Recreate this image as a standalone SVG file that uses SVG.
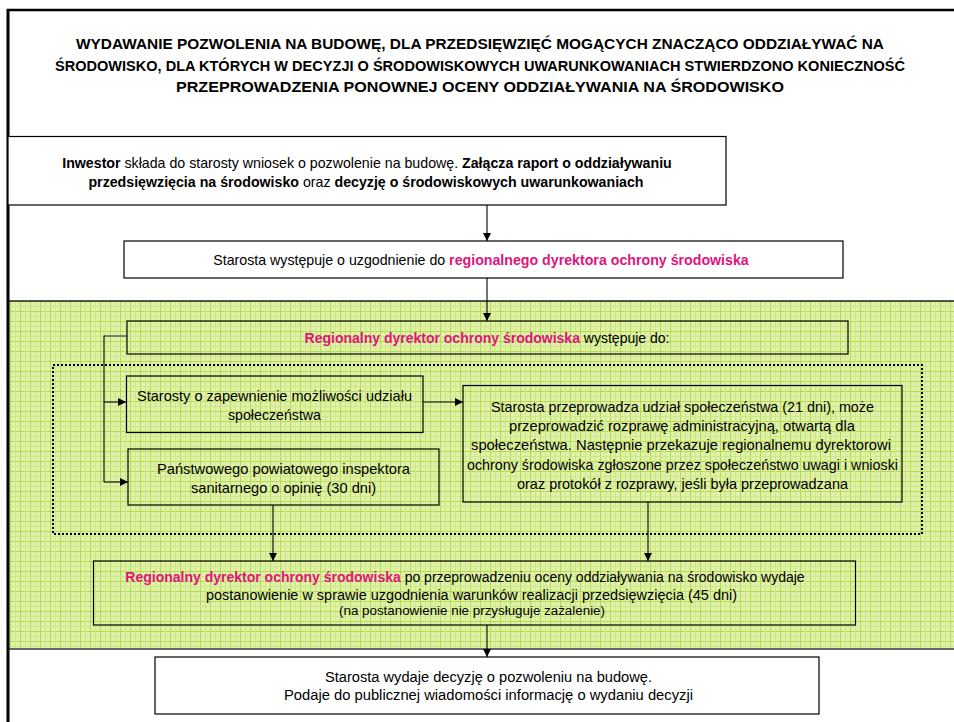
<svg xmlns="http://www.w3.org/2000/svg" width="954" height="722" viewBox="0 0 954 722">
<defs>
<pattern id="grid" x="0" y="1" width="10" height="10" patternUnits="userSpaceOnUse">
<rect width="10" height="10" fill="#e0f1aa"/>
<rect x="0" y="0" width="10" height="1" fill="#b5d94f"/>
<rect x="0" y="0" width="1" height="10" fill="#b5d94f"/>
<rect x="0" y="5" width="10" height="1" fill="#cde78a"/>
<rect x="5" y="0" width="1" height="10" fill="#cde78a"/>
</pattern>
<marker id="arr" markerWidth="8" markerHeight="8" refX="8" refY="4" orient="auto" markerUnits="userSpaceOnUse">
<path d="M0,0 L8,4 L0,8 Z" fill="#000"/>
</marker>
</defs>
<style>
text{font-family:"Liberation Sans",Arial,sans-serif;fill:#000;dominant-baseline:central;}
.t{font-size:14.5px;font-weight:bold;}
.n{font-size:14px;}
.mx{font-size:14.2px;}
.m{font-size:14.5px;}
.s{font-size:12px;}
.b{font-weight:bold;}
.p{fill:#e0147c;font-weight:bold;}
.box{fill:none;stroke:#000;stroke-width:1.2;}
.wbox{fill:#fff;stroke:#000;stroke-width:1.2;}
.c{fill:none;stroke:#000;stroke-width:1.1;}
</style>
<rect x="0" y="0" width="954" height="722" fill="#fff"/>
<rect x="9" y="301" width="945" height="348" fill="url(#grid)"/>
<line x1="9" y1="301" x2="954" y2="301" stroke="#222" stroke-width="1.5"/>
<line x1="9" y1="649" x2="954" y2="649" stroke="#666" stroke-width="2"/>
<line x1="7" y1="10" x2="954" y2="10" stroke="#000" stroke-width="2.5"/>
<line x1="8" y1="9" x2="8" y2="722" stroke="#000" stroke-width="3"/>

<g id="title">
<text class="t" x="76" y="44" textLength="808" lengthAdjust="spacingAndGlyphs">WYDAWANIE POZWOLENIA NA BUDOWĘ, DLA PRZEDSIĘWZIĘĆ MOGĄCYCH ZNACZĄCO ODDZIAŁYWAĆ NA</text>
<text class="t" x="55" y="66" textLength="850" lengthAdjust="spacingAndGlyphs">ŚRODOWISKO, DLA KTÓRYCH W DECYZJI O ŚRODOWISKOWYCH UWARUNKOWANIACH STWIERDZONO KONIECZNOŚĆ</text>
<text class="t" x="176" y="87" textLength="608" lengthAdjust="spacingAndGlyphs">PRZEPROWADZENIA PONOWNEJ OCENY ODDZIAŁYWANIA NA ŚRODOWISKO</text>
</g>

<g id="connectors">
<line class="c" x1="487" y1="205" x2="487" y2="241" marker-end="url(#arr)"/>
<line class="c" x1="487" y1="278" x2="487" y2="321" marker-end="url(#arr)"/>
<line x1="127" y1="336" x2="104" y2="336" stroke="#555" stroke-width="1.4"/>
<line class="c" x1="104" y1="335.5" x2="104" y2="482"/>
<line class="c" x1="104" y1="402" x2="126" y2="402" marker-end="url(#arr)"/>
<line class="c" x1="104" y1="482" x2="128" y2="482" marker-end="url(#arr)"/>
<line class="c" x1="423" y1="402" x2="463" y2="402" marker-end="url(#arr)"/>
<line class="c" x1="273" y1="505" x2="273" y2="561" marker-end="url(#arr)"/>
<line class="c" x1="648" y1="502" x2="648" y2="561" marker-end="url(#arr)"/>
<line class="c" x1="487" y1="625" x2="487" y2="657" marker-end="url(#arr)"/>
</g>

<g id="group-dotted">
<rect x="53" y="365" width="869" height="169" fill="none" stroke="#000" stroke-width="2" stroke-dasharray="2,2"/>
</g>

<g id="n1">
<rect class="wbox" x="8" y="136.5" width="718" height="68.5"/>
<text class="mx" x="367" y="163" text-anchor="middle"><tspan class="b">Inwestor</tspan> składa do starosty wniosek o pozwolenie na budowę. <tspan class="b">Załącza raport o oddziaływaniu</tspan></text>
<text class="mx" x="366" y="182" text-anchor="middle"><tspan class="b">przedsięwzięcia na środowisko</tspan> oraz <tspan class="b">decyzję o środowiskowych uwarunkowaniach</tspan></text>
</g>

<g id="n2">
<rect class="wbox" x="124" y="241" width="719" height="37"/>
<text class="mx" x="481" y="260" text-anchor="middle">Starosta występuje o uzgodnienie do <tspan class="p">regionalnego dyrektora ochrony środowiska</tspan></text>
</g>

<g id="n3">
<rect class="box" x="127" y="321" width="721" height="33"/>
<text class="n" x="487" y="338" text-anchor="middle"><tspan class="p">Regionalny dyrektor ochrony środowiska</tspan> występuje do:</text>
</g>

<g id="n4">
<rect class="box" x="126.5" y="376" width="296.5" height="56.5"/>
<text class="m" x="137" y="396" textLength="275" lengthAdjust="spacingAndGlyphs">Starosty o zapewnienie możliwości udziału</text>
<text class="m" x="228" y="415" textLength="93" lengthAdjust="spacingAndGlyphs">społeczeństwa</text>
</g>

<g id="n5">
<rect class="box" x="128" y="449" width="311" height="56"/>
<text class="m" x="157" y="469" textLength="253" lengthAdjust="spacingAndGlyphs">Państwowego powiatowego inspektora</text>
<text class="m" x="191" y="488" textLength="185" lengthAdjust="spacingAndGlyphs">sanitarnego o opinię (30 dni)</text>
</g>

<g id="n6">
<rect class="box" x="463" y="385.5" width="439" height="116.5"/>
<text class="m" x="491" y="407" textLength="383" lengthAdjust="spacingAndGlyphs">Starosta przeprowadza udział społeczeństwa (21 dni), może</text>
<text class="m" x="509" y="426" textLength="346" lengthAdjust="spacingAndGlyphs">przeprowadzić rozprawę administracyjną, otwartą dla</text>
<text class="m" x="471" y="445" textLength="420" lengthAdjust="spacingAndGlyphs">społeczeństwa. Następnie przekazuje regionalnemu dyrektorowi</text>
<text class="m" x="467" y="465" textLength="431" lengthAdjust="spacingAndGlyphs">ochrony środowiska zgłoszone przez społeczeństwo uwagi i wnioski</text>
<text class="m" x="517" y="484" textLength="331" lengthAdjust="spacingAndGlyphs">oraz protokół z rozprawy, jeśli była przeprowadzana</text>
</g>

<g id="n7">
<rect class="box" x="93.5" y="561" width="762" height="64"/>
<text class="n" x="465" y="577" text-anchor="middle"><tspan class="p">Regionalny dyrektor ochrony środowiska</tspan> po przeprowadzeniu oceny oddziaływania na środowisko wydaje</text>
<text class="n" x="206" y="595" textLength="531" lengthAdjust="spacingAndGlyphs">postanowienie w sprawie uzgodnienia warunków realizacji przedsięwzięcia (45 dni)</text>
<text class="s" x="339" y="611" textLength="266" lengthAdjust="spacingAndGlyphs">(na postanowienie nie przysługuje zażalenie)</text>
</g>

<g id="n8">
<rect class="wbox" x="155" y="657" width="664" height="57"/>
<text class="n" x="325" y="677" textLength="327" lengthAdjust="spacingAndGlyphs">Starosta wydaje decyzję o pozwoleniu na budowę.</text>
<text class="n" x="284" y="695" textLength="409" lengthAdjust="spacingAndGlyphs">Podaje do publicznej wiadomości informację o wydaniu decyzji</text>
</g>
</svg>
